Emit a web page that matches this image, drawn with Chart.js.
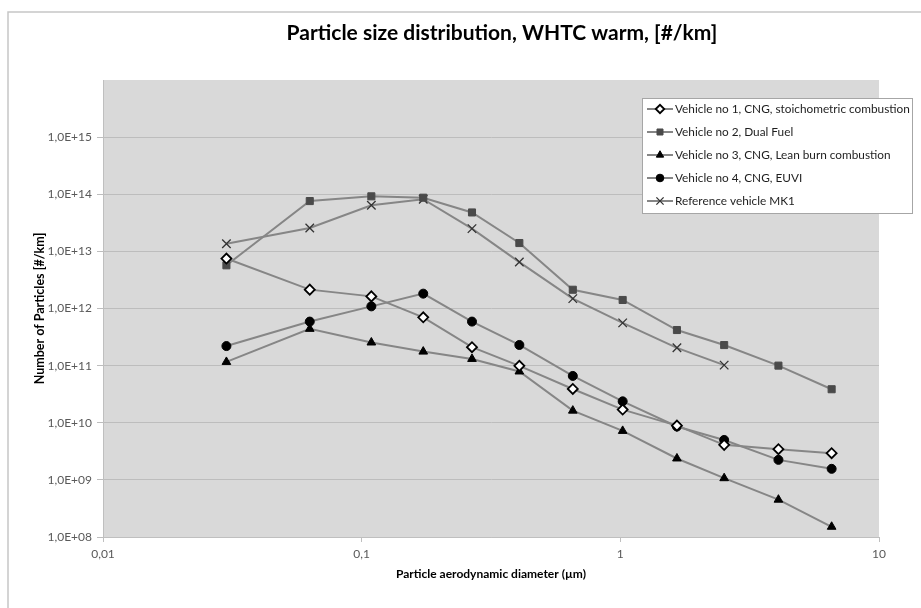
<!DOCTYPE html>
<html>
<head>
<meta charset="utf-8">
<script src="https://cdn.jsdelivr.net/npm/chart.js@4"></script>
<style>
    html, body { margin: 0; padding: 0; background: #fff; }
    #wrap { width: 921px; height: 608px; position: relative; }
</style>
</head>
<body>
<div id="wrap"><canvas id="psd_chart"></canvas></div>
<script>
// particle diameters, µm (ELPI stages)
const diameters = [0.03, 0.063, 0.109, 0.173, 0.267, 0.407, 0.655, 1.021, 1.655, 2.52, 4.085, 6.56];

const vehicle1 = [7.5e12, 2.14e12, 1.63e12, 7.0e11, 2.1e11, 9.9e10, 3.9e10, 1.7e10, 8.9e9, 4.1e9, 3.45e9, 2.93e9];
const vehicle2 = [5.7e12, 7.6e13, 9.2e13, 8.7e13, 4.8e13, 1.4e13, 2.13e12, 1.41e12, 4.2e11, 2.29e11, 1.0e11, 3.86e10];
const vehicle3 = [1.16e11, 4.4e11, 2.54e11, 1.76e11, 1.31e11, 7.9e10, 1.63e10, 7.2e9, 2.37e9, 1.07e9, 4.5e8, 1.51e8];
const vehicle4 = [2.2e11, 5.9e11, 1.09e12, 1.82e12, 5.9e11, 2.3e11, 6.6e10, 2.37e10, 8.6e9, 5.0e9, 2.24e9, 1.56e9];
const referenceMK1 = [1.36e13, 2.56e13, 6.4e13, 8.2e13, 2.5e13, 6.5e12, 1.49e12, 5.6e11, 2.05e11, 1.02e11];

const seriesNames = [
    'Vehicle no 1, CNG, stoichometric combustion',
    'Vehicle no 2, Dual Fuel',
    'Vehicle no 3, CNG, Lean burn combustion',
    'Vehicle no 4, CNG, EUVI',
    'Reference vehicle MK1'
];

const xTickValues = [0.01, 0.1, 1, 10];
const xTickLabels = ['0,01', '0,1', '1', '10'];
const yTickValues = [1e8, 1e9, 1e10, 1e11, 1e12, 1e13, 1e14, 1e15];
const yTickLabels = ['1,0E+08', '1,0E+09', '1,0E+10', '1,0E+11', '1,0E+12', '1,0E+13', '1,0E+14', '1,0E+15'];

const FONT = 'Lato, "Open Sans", sans-serif';
const LINE_GRAY = '#868686';

function toPoints(values) {
    return values.map((v, i) => ({x: diameters[i], y: v}));
}

function makeSeries(name, values, style, radius, fill, stroke, bw) {
    return {
        label: name,
        data: toPoints(values),
        borderColor: LINE_GRAY,
        borderWidth: 2,
        tension: 0,
        fill: false,
        pointStyle: style,
        pointRadius: radius,
        pointHoverRadius: radius,
        pointBackgroundColor: fill,
        pointBorderColor: stroke,
        pointBorderWidth: bw
    };
}

// grey plot area + outer chart frame
const excelFrame = {
    id: 'excelFrame',
    beforeDraw(chart) {
        const ctx = chart.ctx;
        const a = chart.chartArea;
        ctx.save();
        ctx.fillStyle = '#ffffff';
        ctx.fillRect(0, 0, chart.width, chart.height);
        ctx.strokeStyle = '#c6c6c6';
        ctx.lineWidth = 1.5;
        ctx.beginPath();
        ctx.moveTo(8, chart.height);
        ctx.lineTo(8, 12);
        ctx.lineTo(chart.width, 12);
        ctx.stroke();
        ctx.fillStyle = '#d9d9d9';
        ctx.fillRect(a.left, a.top, a.right - a.left, a.bottom - a.top);
        ctx.restore();
    },
    afterDraw(chart) {
        const ctx = chart.ctx;
        ctx.save();
        ctx.fillStyle = '#000';
        ctx.font = 'bold 21px ' + FONT;
        ctx.textAlign = 'center';
        ctx.textBaseline = 'middle';
        ctx.fillText('Particle size distribution, WHTC warm, [#/km]', 502, 33);
        ctx.restore();
    }
};

// boxed legend, Excel style
const boxLegend = {
    id: 'boxLegend',
    afterDatasetsDraw(chart) {
        const ctx = chart.ctx;
        ctx.save();
        ctx.fillStyle = '#ffffff';
        ctx.fillRect(642, 98, 270, 115);
        ctx.strokeStyle = '#a6a6a6';
        ctx.lineWidth = 1;
        ctx.strokeRect(642.5, 98.5, 270, 115);

        chart.data.datasets.forEach(function (ds, i) {
            const y = 109 + i * 23;
            ctx.strokeStyle = ds.borderColor;
            ctx.lineWidth = 2;
            ctx.beginPath();
            ctx.moveTo(647, y);
            ctx.lineTo(673, y);
            ctx.stroke();

            ctx.fillStyle = ds.pointBackgroundColor;
            ctx.strokeStyle = ds.pointBorderColor;
            ctx.lineWidth = ds.pointBorderWidth;
            Chart.helpers.drawPoint(ctx, {
                pointStyle: ds.pointStyle,
                radius: ds.pointRadius * 0.85,
                borderWidth: ds.pointBorderWidth,
                rotation: 0
            }, 660, y);

            ctx.fillStyle = '#1e1e1e';
            ctx.font = '11.8px ' + FONT;
            ctx.textAlign = 'left';
            ctx.textBaseline = 'middle';
            ctx.fillText(ds.label, 675, y);
        });
        ctx.restore();
    }
};

new Chart(document.getElementById('psd_chart'), {
    type: 'line',
    data: {
        datasets: [
            makeSeries(seriesNames[0], vehicle1, 'rectRot', 5, '#ffffff', '#000000', 1.8),
            makeSeries(seriesNames[1], vehicle2, 'rect', 5, '#4a4a4a', '#4a4a4a', 1),
            makeSeries(seriesNames[2], vehicle3, 'triangle', 5, '#000000', '#000000', 1),
            makeSeries(seriesNames[3], vehicle4, 'circle', 4.5, '#000000', '#000000', 1),
            makeSeries(seriesNames[4], referenceMK1, 'crossRot', 6, '#333333', '#333333', 1.3)
        ]
    },
    options: {
        responsive: true,
        maintainAspectRatio: false,
        animation: false,
        layout: {
            padding: {top: 80, right: 42, bottom: 0, left: 0}
        },
        plugins: {
            legend: {display: false},
            title: {display: false},
            tooltip: {enabled: false}
        },
        scales: {
            x: {
                type: 'logarithmic',
                min: 0.01,
                max: 10,
                afterBuildTicks: function (scale) {
                    scale.ticks = xTickValues.map(v => ({value: v}));
                },
                afterFit: function (scale) {
                    scale.height = 71;
                },
                ticks: {
                    autoSkip: false,
                    maxRotation: 0,
                    padding: 5,
                    color: '#595959',
                    font: {family: FONT, size: 12},
                    callback: function (value) {
                        const i = xTickValues.indexOf(value);
                        return i >= 0 ? xTickLabels[i] : '';
                    }
                },
                grid: {
                    drawOnChartArea: false,
                    drawTicks: true,
                    tickLength: 5,
                    color: '#bfbfbf'
                },
                border: {color: '#bfbfbf', width: 1},
                title: {
                    display: true,
                    text: 'Particle aerodynamic diameter (µm)',
                    color: '#000',
                    font: {family: FONT, size: 12, weight: 'bold'},
                    padding: {top: 0, bottom: 27}
                }
            },
            y: {
                type: 'logarithmic',
                min: 1e8,
                max: 1e16,
                afterBuildTicks: function (scale) {
                    scale.ticks = yTickValues.map(v => ({value: v}));
                },
                afterFit: function (scale) {
                    scale.width = 103;
                },
                ticks: {
                    autoSkip: false,
                    padding: 5,
                    color: '#595959',
                    font: {family: FONT, size: 12},
                    callback: function (value) {
                        const i = yTickValues.indexOf(value);
                        return i >= 0 ? yTickLabels[i] : '';
                    }
                },
                grid: {
                    color: '#bdbdbd',
                    lineWidth: 1,
                    drawTicks: true,
                    tickLength: 6
                },
                border: {color: '#bfbfbf', width: 1},
                title: {
                    display: true,
                    text: 'Number of Particles [#/km]',
                    color: '#000',
                    font: {family: FONT, size: 12.5, weight: 'bold'},
                    padding: {top: 32.5, bottom: 0}
                }
            }
        }
    },
    plugins: [excelFrame, boxLegend]
});
</script>
</body>
</html>
